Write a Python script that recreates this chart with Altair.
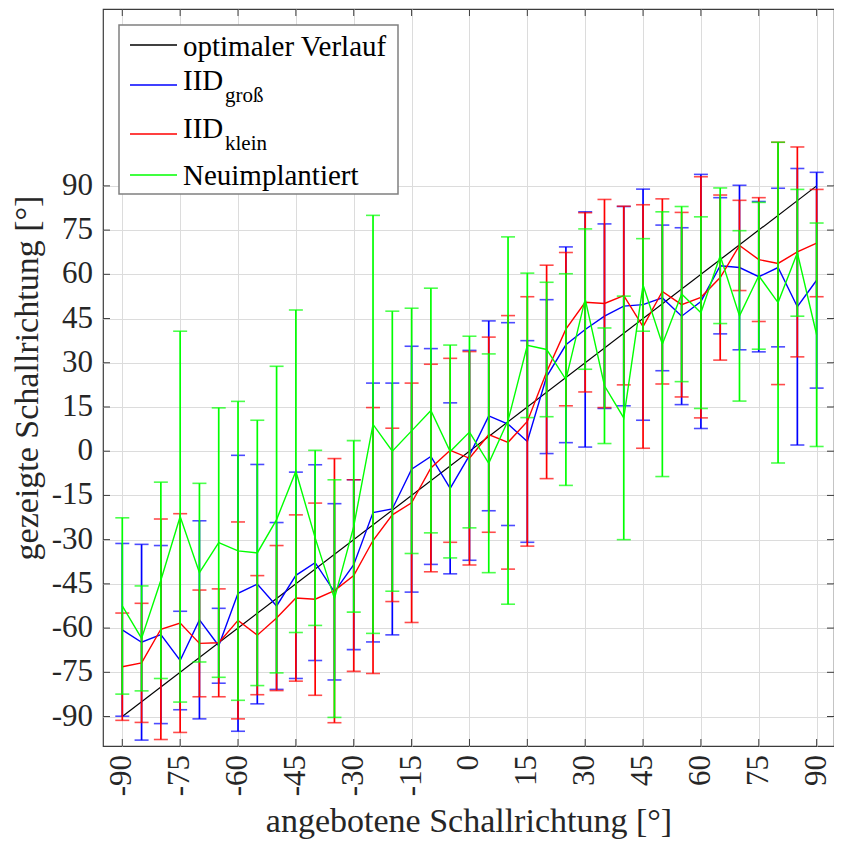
import altair as alt
import pandas as pd

# ---------------- data ----------------
x_deg = [-90, -85, -80, -75, -70, -65, -60, -55, -50, -45, -40, -35, -30, -25, -20, -15, -10, -5,
         0, 5, 10, 15, 20, 25, 30, 35, 40, 45, 50, 55, 60, 65, 70, 75, 80, 85, 90]

gross_mean = [-60.6, -64.8, -62.2, -71.0, -57.2, -66.0, -48.2, -45.1, -52.5, -42.1, -37.8, -47.7, -38.5,
              -20.8, -19.6, -6.1, -1.8, -12.6, -1.4, 12.0, 9.2, 3.3, 25.3, 36.1, 41.3, 45.8, 49.2,
              49.7, 52.0, 45.8, 50.8, 62.9, 62.3, 59.2, 62.3, 49.0, 58.0]
gross_err = [29.3, 33.2, 30.2, 16.7, 33.6, 12.7, 46.8, 40.6, 28.3, 35.0, 33.2, 29.9, 28.8,
             43.9, 42.7, 41.7, 36.6, 29.0, 35.6, 32.2, 34.4, 34.2, 26.1, 33.2, 39.9, 31.3, 33.8,
             39.2, 24.7, 30.0, 43.1, 23.1, 27.9, 25.5, 26.9, 46.9, 36.6]

klein_mean = [-73.1, -71.8, -60.4, -58.3, -65.2, -65.0, -57.4, -62.4, -56.6, -49.8, -50.2, -47.3, -42.2,
              -30.3, -21.6, -17.5, -5.7, 0.3, -2.4, 5.6, 3.0, 10.1, 26.9, 41.4, 50.5, 50.1, 52.8,
              42.3, 54.2, 49.7, 52.2, 58.9, 69.8, 65.0, 63.7, 67.6, 70.6]
klein_err = [18.2, 20.2, 37.4, 37.1, 18.1, 18.3, 33.4, 20.2, 24.6, 28.2, 32.6, 44.8, 32.5,
             45.1, 29.4, 40.6, 35.2, 31.2, 36.2, 33.1, 43.0, 42.3, 36.2, 26.0, 30.4, 35.3, 30.3,
             41.3, 31.4, 31.3, 40.9, 28.0, 15.3, 21.0, 41.1, 35.6, 18.2]

neu_mean = [-52.5, -63.5, -43.8, -22.2, -41.2, -31.0, -33.8, -34.5, -23.2, -6.8, -29.4, -50.0, -25.5,
            9.1, 0.0, 6.9, 13.8, -0.1, 6.5, -4.1, 10.4, 35.9, 34.5, 24.3, 51.6, 22.2, 11.3,
            56.4, 36.3, 53.3, 47.0, 66.3, 45.9, 59.5, 50.4, 67.3, 39.5]
neu_err = [29.9, 17.8, 33.3, 62.9, 30.3, 45.7, 50.7, 45.0, 52.0, 54.7, 29.7, 40.3, 29.1,
           70.9, 47.5, 41.6, 41.5, 36.1, 32.5, 37.1, 62.3, 24.5, 22.8, 35.9, 23.8, 19.6, 41.3,
           15.7, 44.9, 29.7, 32.5, 23.0, 28.9, 24.9, 54.4, 21.5, 37.9]

ideal_x = [-90, 90]
ideal_y = [-90, 90]

series_names = ["IID groß", "IID klein", "Neuimplantiert"]
series_colors = ["#0000ff", "#ff0000", "#00ff00"]

x_ticks = [-90, -75, -60, -45, -30, -15, 0, 15, 30, 45, 60, 75, 90]
y_ticks = [-90, -75, -60, -45, -30, -15, 0, 15, 30, 45, 60, 75, 90]
x_tick_labels = ["-90", "-75", "-60", "-45", "-30", "-15", "0", "15", "30", "45", "60", "75", "90"]
y_tick_labels = ["-90", "-75", "-60", "-45", "-30", "-15", "0", "15", "30", "45", "60", "75", "90"]

# ---------------- layout constants ----------------
W, H = 731, 737
FONT = "Liberation Serif"
FRAME = "#3c3c3c"
TXT = "#262626"
TICK_FS = 31

xs = alt.Scale(domain=[-95, 94.5], nice=False, zero=False)
ys = alt.Scale(domain=[-100, 150], nice=False, zero=False)

xaxis = alt.Axis(values=x_ticks, title="angebotene Schallrichtung [°]", labels=False,
                 titleFont=FONT, titleFontSize=34, titleColor=TXT, titleFontWeight="normal",
                 titleY=85, titleBaseline="alphabetic", grid=True)
yaxis = alt.Axis(values=y_ticks, title="gezeigte Schallrichtung [°]", labels=False,
                 titleFont=FONT, titleFontSize=34, titleColor=TXT, titleFontWeight="normal",
                 titleAngle=270, titleX=-66, titleY=H / 2, titleAlign="center",
                 titleBaseline="alphabetic", grid=True)


def X(field):
    return alt.X(field, type="quantitative", scale=xs, axis=xaxis)


def Y(field):
    return alt.Y(field, type="quantitative", scale=ys, axis=yaxis)


color_scale = alt.Scale(domain=series_names, range=series_colors)

# ---------------- build tables ----------------
frames = []
for name, m, e in [(series_names[0], gross_mean, gross_err),
                   (series_names[1], klein_mean, klein_err),
                   (series_names[2], neu_mean, neu_err)]:
    d = pd.DataFrame({"x": x_deg, "mean": m, "err": e})
    d["lo"] = d["mean"] - d["err"]
    d["hi"] = d["mean"] + d["err"]
    d["series"] = name
    frames.append(d)

ideal_df = pd.DataFrame({"x": ideal_x, "mean": ideal_y})
xt_df = pd.DataFrame({"v": x_ticks, "lab": x_tick_labels})
yt_df = pd.DataFrame({"v": y_ticks, "lab": y_tick_labels})
one = pd.DataFrame({"k": [0]})

layers = []

# inward ticks on all four sides
layers.append(alt.Chart(xt_df).mark_rule(color=FRAME, strokeWidth=1).encode(
    x=X("v"), y=alt.value(H), y2=alt.value(H - 7)))
layers.append(alt.Chart(xt_df).mark_rule(color=FRAME, strokeWidth=1).encode(
    x=X("v"), y=alt.value(0), y2=alt.value(7)))
layers.append(alt.Chart(yt_df).mark_rule(color=FRAME, strokeWidth=1).encode(
    y=Y("v"), x=alt.value(0), x2=alt.value(7)))
layers.append(alt.Chart(yt_df).mark_rule(color=FRAME, strokeWidth=1).encode(
    y=Y("v"), x=alt.value(W), x2=alt.value(W - 7)))

# tick labels (serif, hyphen minus)
layers.append(alt.Chart(xt_df).mark_text(font=FONT, fontSize=TICK_FS, color=TXT, angle=270,
                                         align="right", baseline="middle").encode(
    x=X("v"), y=alt.value(H + 9), text="lab:N"))
layers.append(alt.Chart(yt_df).mark_text(font=FONT, fontSize=TICK_FS, color=TXT,
                                         align="right", baseline="middle").encode(
    y=Y("v"), x=alt.value(-10), text="lab:N"))

# optimal line
layers.append(alt.Chart(ideal_df).mark_line(color="#000000", strokeWidth=1.2).encode(
    x=X("x"), y=Y("mean")))

# series with error bars
for d in frames:
    base = alt.Chart(d)
    col = alt.Color("series:N", scale=color_scale, legend=None)
    layers.append(base.mark_rule(strokeWidth=1.7).encode(x=X("x"), y=Y("lo"), y2="hi", color=col))
    layers.append(base.mark_tick(orient="horizontal", size=14, thickness=1.6).encode(
        x=X("x"), y=Y("lo"), color=col))
    layers.append(base.mark_tick(orient="horizontal", size=14, thickness=1.6).encode(
        x=X("x"), y=Y("hi"), color=col))
    layers.append(base.mark_line(strokeWidth=1.4).encode(
        x=X("x"), y=Y("mean"), color=col, order="x:Q"))

# ---------------- custom legend (with subscripts) ----------------
LX0, LX1, LY0, LY1 = 16, 295, 16, 185
layers.append(alt.Chart(one).mark_rect(fill="white", stroke="#808080", strokeWidth=1.5).encode(
    x=alt.value(LX0), x2=alt.value(LX1), y=alt.value(LY0), y2=alt.value(LY1)))

legend_rows = [
    ("#000000", 36, "optimaler Verlauf", None, 47),
    (series_colors[0], 76, "IID", "groß", 81),
    (series_colors[1], 125, "IID", "klein", 129),
    (series_colors[2], 166, "Neuimplantiert", None, 176),
]
for colr, ly, txt, sub, base_y in legend_rows:
    layers.append(alt.Chart(one).mark_rule(color=colr, strokeWidth=1.3).encode(
        x=alt.value(27), x2=alt.value(74), y=alt.value(ly)))
    layers.append(alt.Chart(one).mark_text(font=FONT, fontSize=29, align="left",
                                           baseline="alphabetic", color="#000000").encode(
        x=alt.value(80), y=alt.value(base_y), text=alt.value(txt)))
    if sub:
        layers.append(alt.Chart(one).mark_text(font=FONT, fontSize=21, align="left",
                                               baseline="alphabetic", color="#000000").encode(
            x=alt.value(122), y=alt.value(base_y + 12), text=alt.value(sub)))

chart = alt.layer(*layers).properties(
    width=W, height=H,
    autosize=alt.AutoSizeParams(type="none"),
    padding={"left": 95, "top": 1, "right": 0, "bottom": 93},
    background="white",
).configure_view(
    stroke=FRAME, strokeWidth=1.2
).configure_axis(
    domain=False, ticks=False,
    gridColor="#dcdcdc", gridWidth=1, gridOpacity=1,
    titleFont=FONT, titleFontSize=34, titleColor=TXT, titleFontWeight="normal",
)

chart.save("out.html", embed_options={"renderer": "svg", "actions": False})
